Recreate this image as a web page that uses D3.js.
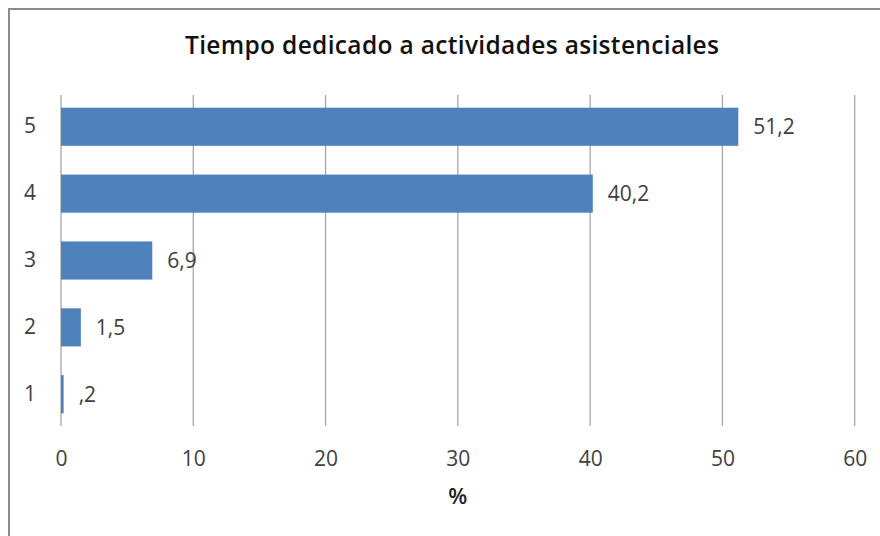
<!DOCTYPE html>
<html>
  <head>
    <meta charset="utf-8"/>
    <style>
    body {
      margin: 0;
      background: #fff;
    }
    text {
      font-family: "Open Sans", sans-serif;
    }
    </style>
  </head>
  <body>
    <script src="https://d3js.org/d3.v7.min.js"></script>
    <script>
    var categories = ["5", "4", "3", "2", "1"];
    var values = [51.2, 40.2, 6.9, 1.5, 0.2];
    var valueLabels = ["51,2", "40,2", "6,9", "1,5", ",2"];
    var xTicks = [0, 10, 20, 30, 40, 50, 60];
    var title = "Tiempo dedicado a actividades asistenciales";
    var xTitle = "%";

    var width = 880, height = 536;
    var margin = {top: 95, left: 61, right: 25, bottom: 110};

    var svg = d3.select("body").append("svg")
        .attr("width", width)
        .attr("height", height);

    // outer frame (runs off the right and bottom edges)
    svg.append("rect")
        .attr("x", 9)
        .attr("y", 9)
        .attr("width", 900)
        .attr("height", 600)
        .attr("fill", "none")
        .attr("stroke", "#8c8c8c")
        .attr("stroke-width", 2);

    var x = d3.scaleLinear()
        .domain([0, 60])
        .range([margin.left, 854.7]);

    var y = d3.scaleBand()
        .domain(categories)
        .range([margin.top, 426])
        .paddingInner(0.43)
        .paddingOuter(0.19);

    svg.append("text")
        .attr("x", 452)
        .attr("y", 54)
        .attr("text-anchor", "middle")
        .attr("font-size", 24.5)
        .attr("font-weight", 600)
        .attr("fill", "#111")
        .attr("textLength", 534)
        .text(title);

    // gridlines
    svg.append("g")
      .selectAll("line")
      .data(xTicks)
      .enter().append("line")
        .attr("x1", function(d) { return x(d); })
        .attr("x2", function(d) { return x(d); })
        .attr("y1", margin.top)
        .attr("y2", 426)
        .attr("stroke", "#a6a6a6")
        .attr("stroke-width", 1.3);

    var xAxis = svg.append("g")
        .attr("transform", "translate(0,426)")
        .call(d3.axisBottom(x).tickValues(xTicks).tickSize(0).tickPadding(25));
    xAxis.select(".domain").remove();
    xAxis.selectAll("text")
        .attr("font-size", 21)
        .attr("font-family", "'Open Sans', sans-serif")
        .attr("fill", "#404040");

    var yAxis = svg.append("g")
        .attr("transform", "translate(30,0)")
        .call(d3.axisLeft(y).tickSize(0).tickPadding(0));
    yAxis.select(".domain").remove();
    yAxis.selectAll("text")
        .attr("text-anchor", "middle")
        .attr("font-size", 21)
        .attr("font-family", "'Open Sans', sans-serif")
        .attr("fill", "#404040");

    svg.append("g")
      .selectAll("rect")
      .data(values)
      .enter().append("rect")
        .attr("x", x(0))
        .attr("y", function(d, i) { return y(categories[i]); })
        .attr("width", function(d) { return x(d) - x(0); })
        .attr("height", y.bandwidth())
        .attr("fill", "#4f81bd");

    svg.append("g")
      .selectAll("text")
      .data(values)
      .enter().append("text")
        .attr("x", function(d) { return x(d) + 15; })
        .attr("y", function(d, i) { return y(categories[i]) + y.bandwidth() / 2; })
        .attr("dy", "0.35em")
        .attr("font-size", 21)
        .attr("fill", "#404040")
        .text(function(d, i) { return valueLabels[i]; });

    svg.append("text")
        .attr("x", x(30))
        .attr("y", 504)
        .attr("text-anchor", "middle")
        .attr("font-size", 22)
        .attr("font-weight", 600)
        .attr("fill", "#222")
        .text(xTitle);
    </script>
  </body>
</html>
